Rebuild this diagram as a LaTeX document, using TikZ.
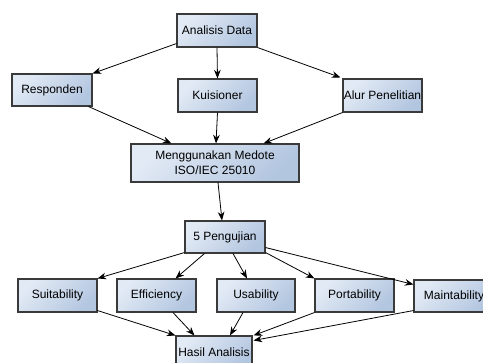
\documentclass[tikz,border=0pt]{standalone}
\usepackage{fontspec}
\setmainfont{Liberation Sans}
\usetikzlibrary{arrows.meta}
\definecolor{boxA}{HTML}{E2EAF5}
\definecolor{boxB}{HTML}{B3C6E0}
\definecolor{boxline}{HTML}{3A3A3A}
\tikzset{
  box/.style={draw=boxline, line width=0.8pt, top color=boxA, bottom color=boxB,
    shading angle=45, inner sep=0pt, font=\fontsize{9}{11}\selectfont,
    minimum width=60pt, minimum height=24.75pt, align=center},
  arr/.style={-{Stealth[length=6.5pt,width=5pt]}, line width=0.6pt, black}
}
\begin{document}
\begin{tikzpicture}[x=0.75pt,y=-0.75pt]
\useasboundingbox (0,0) rectangle (483,362);
\fill[white] (0,0) rectangle (483,362);
\clip (0,0) rectangle (483,362);
\node[box] (ad) at (217,30.5) {Analisis Data};
\node[box, minimum height=24pt] (resp) at (52,90) {Responden};
\node[box, minimum width=59.25pt] (kuis) at (217.5,95.5) {Kuisioner};
\node[box, minimum width=59.25pt] (alur) at (382.5,95.5) {Alur Penelitian};
\node[box, minimum width=126pt, minimum height=28.5pt] (meng) at (215,163) {Menggunakan Medote\\ISO/IEC 25010};
\node[box, minimum height=24pt] (peng) at (225,237) {5 Pengujian};
\node[box, minimum width=59.25pt] (suit) at (57.5,295.5) {Suitability};
\node[box, minimum width=59.25pt] (eff) at (156.5,295.5) {Efficiency};
\node[box, minimum width=58.5pt] (usab) at (256,295.5) {Usability};
\node[box, minimum width=59.25pt] (port) at (354.5,295.5) {Portability};
\node[box, minimum height=24pt] (maint) at (454,296) {Maintability};
\node[box, minimum width=57pt] (hasil) at (214,352.5) {Hasil Analisis};

\draw[arr] ([shift={(0,-4)}]ad.south west) -- (resp.north east);
\draw[arr] (ad.south) -- (kuis.north);
\draw[arr] (ad.south east) -- ([shift={(-2,-1)}]alur.north west);
\draw[arr] ([shift={(-4,0)}]resp.south east) -- ([shift={(41,0)}]meng.north west);
\draw[arr] (kuis.south) -- ([shift={(1,0)}]meng.north);
\draw[arr] (alur.south west) -- ([shift={(-36,0)}]meng.north east);
\draw[arr] ([shift={(3,0)}]meng.south) -- ([shift={(-3,0)}]peng.north);
\draw[arr] ([shift={(0,-1)}]peng.south west) -- (suit.north east);
\draw[arr] ([shift={(20,0)}]peng.south west) -- ([shift={(-21,0)}]eff.north east);
\draw[arr] ([shift={(8,0)}]peng.south) -- ([shift={(-9,0)}]usab.north);
\draw[arr] ([shift={(0,-1)}]peng.south east) -- (port.north west);
\draw[arr] ([shift={(0,-6)}]peng.south east) -- ([shift={(0,5)}]maint.north west);
\draw[arr] ([shift={(0,-2)}]suit.south east) -- (hasil.north west);
\draw[arr] ([shift={(16.5,0)}]eff.south) -- ([shift={(19,0)}]hasil.north west);
\draw[arr] ([shift={(-13,0)}]usab.south) -- ([shift={(16,0)}]hasil.north);
\draw[arr] (port.south west) -- ([shift={(1,0)}]hasil.north east);
\draw[arr] ([shift={(0,-2)}]maint.south west) -- ([shift={(1,5)}]hasil.north east);
\end{tikzpicture}
\end{document}
